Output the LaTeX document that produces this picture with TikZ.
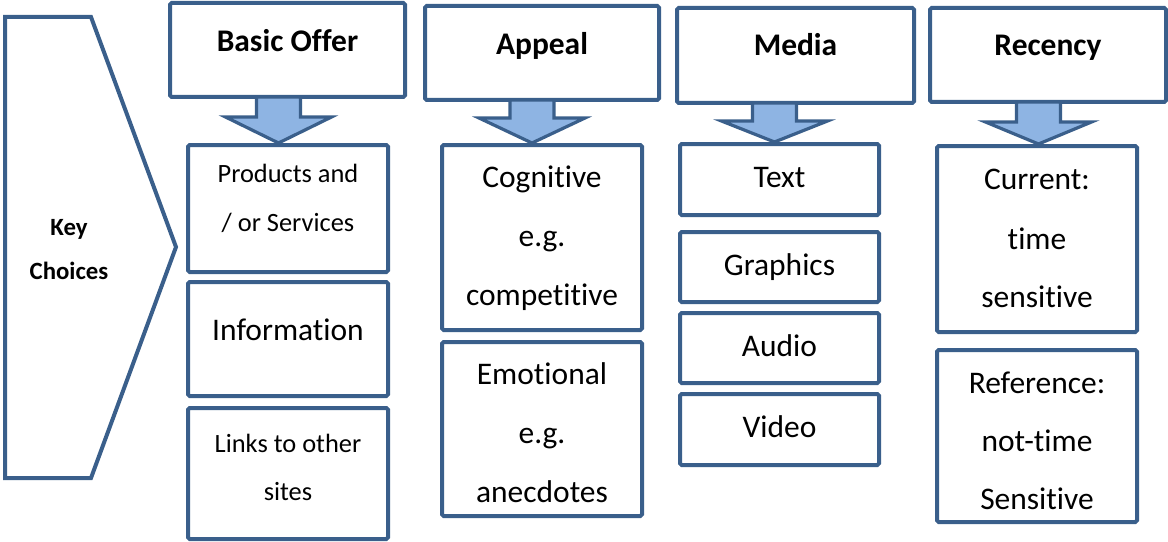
\documentclass[tikz,border=0pt]{standalone}
\usepackage{fontspec}
\setmainfont{Carlito}[Ligatures=NoCommon]
\usetikzlibrary{fit}
\definecolor{edge}{RGB}{58,95,139}
\definecolor{arrowfill}{RGB}{142,180,227}
\tikzset{
  panel/.style={draw=edge, line width=3pt, rounded corners=1.2pt, inner sep=0pt, outer sep=0pt},
  chevron/.style={draw=edge, line width=3pt, line join=miter},
  arrowbody/.style={draw=edge, fill=arrowfill, line width=2.4pt, line join=miter},
  head/.style={anchor=base, font=\fontsize{23.6}{28}\selectfont\bfseries},
  big/.style={anchor=base, font=\fontsize{23.6}{28}\selectfont},
  small/.style={anchor=base, font=\fontsize{19.8}{24}\selectfont},
  keytext/.style={anchor=base, font=\fontsize{18.6}{22}\selectfont\bfseries},
}
% rectangle from corner (x1,y1) to (x2,y2)
\newcommand\panelbox[5]{\node[panel, fit={(#2,#3) (#4,#5)}] (#1) {};}
% block arrow: centre x, top, shoulder, tip
\newcommand\blockarrow[4]{%
  \draw[arrowbody] (#1-22,#2) -- (#1+22,#2) -- (#1+22,#3) -- (#1+53,#3)
    -- (#1,#4) -- (#1-53,#3) -- (#1-22,#3) -- cycle;}
\begin{document}
\begin{tikzpicture}[x=0.75pt, y=-0.75pt]
\useasboundingbox (0,0) rectangle (1168,542);

% left chevron
\draw[chevron] (5,17) -- (91,17) -- (176,247) -- (91,478) -- (5,478) -- cycle;
\node[keytext] (key1) at (69,235) {Key};
\node[keytext] (key2) at (69,279) {Choices};

% column headers
\panelbox{hbo}{170}{3}{405}{97}
\panelbox{hap}{425}{6}{659}{100}
\panelbox{hme}{677}{8}{914}{103}
\panelbox{hre}{930}{8}{1166}{102}
\node[head] (tbo) at (287.5,52) {Basic Offer};
\node[head] (tap) at (542,55) {Appeal};
\node[head] (tme) at (795.5,56) {Media};
\node[head] (tre) at (1048,56) {Recency};

% Basic Offer column
\panelbox{bo1}{188}{145}{388}{272}
\panelbox{bo2}{188}{282}{388}{396}
\panelbox{bo3}{188}{408}{388}{539}
\node[small] (bo1a) at (288,182) {Products and};
\node[small] (bo1b) at (288,231) {/ or Services};
\node[big] (bo2a) at (288,340) {Information};
\node[small] (bo3a) at (288,452) {Links to other};
\node[small] (bo3b) at (288,500) {sites};

% Appeal column
\panelbox{ap1}{442}{145}{642}{330}
\panelbox{ap2}{442}{342}{642}{516}
\node[big] (ap1a) at (542,187) {Cognitive};
\node[big] (ap1b) at (542,246) {e.g.};
\node[big] (ap1c) at (542,305) {competitive};
\node[big] (ap2a) at (542,384) {Emotional};
\node[big] (ap2b) at (542,443) {e.g.};
\node[big] (ap2c) at (542,502) {anecdotes};

% Media column
\panelbox{me1}{680}{144}{879}{215}
\panelbox{me2}{680}{232}{879}{302}
\panelbox{me3}{680}{313}{879}{383}
\panelbox{me4}{680}{394}{879}{465}
\node[big] (me1a) at (779.5,187) {Text};
\node[big] (me2a) at (779.5,275) {Graphics};
\node[big] (me3a) at (779.5,356) {Audio};
\node[big] (me4a) at (779.5,437) {Video};

% Recency column
\panelbox{re1}{937}{146}{1137}{332}
\panelbox{re2}{937}{350}{1137}{522}
\node[big] (re1a) at (1037,190) {Current:};
\node[big] (re1b) at (1037,249) {time};
\node[big] (re1c) at (1037,307) {sensitive};
\node[big] (re2a) at (1037,393) {Reference:};
\node[big] (re2b) at (1037,451) {not-time};
\node[big] (re2c) at (1037,509) {Sensitive};

% arrows from each header down to its first box
\blockarrow{278.5}{97}{117}{143}
\blockarrow{532}{100}{118}{143}
\blockarrow{774.5}{103}{121}{142}
\blockarrow{1038.5}{102}{122}{144}
\end{tikzpicture}
\end{document}
